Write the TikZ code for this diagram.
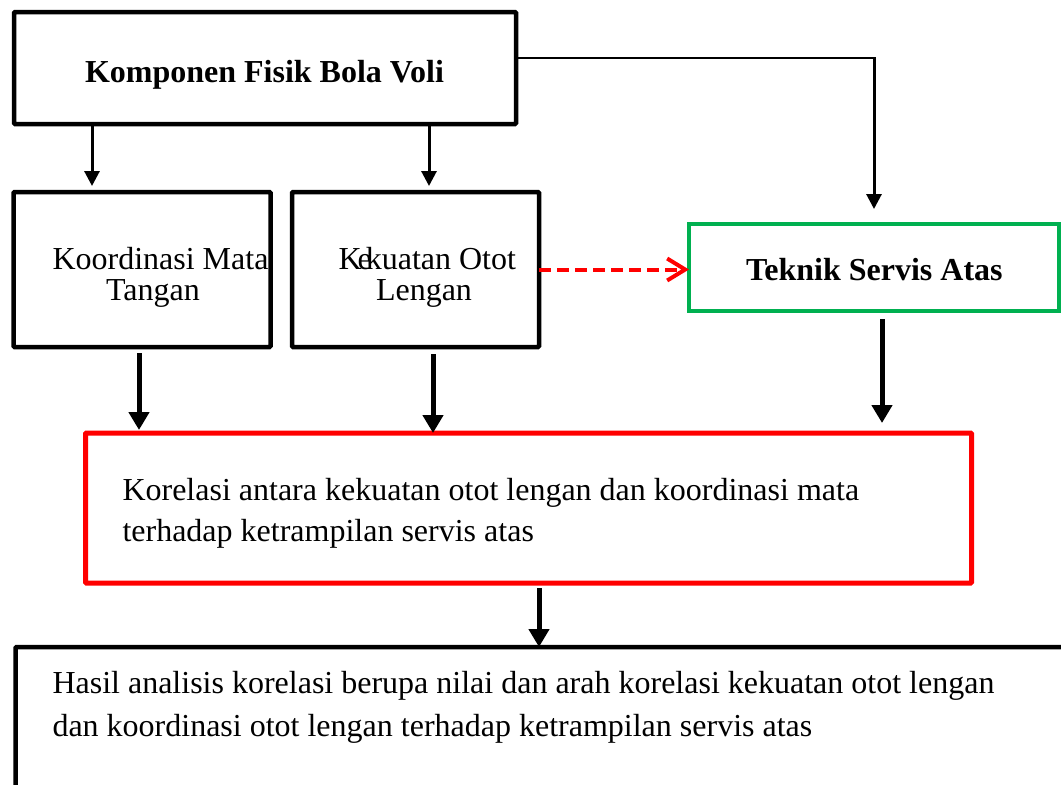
\documentclass[tikz,border=0pt]{standalone}
\usepackage{fontspec}
\setmainfont{Liberation Serif}
\usetikzlibrary{arrows.meta,calc}
\definecolor{wred}{HTML}{FF0000}
\definecolor{wgreen}{HTML}{00B050}
\begin{document}
\begin{tikzpicture}[x=1pt,y=-1pt,
  box/.style={draw=black,line width=4.5pt,rectangle,inner sep=0pt,outer sep=0pt,rounded corners=1pt},
  txt/.style={inner sep=0pt,outer sep=0pt,font=\fontsize{32}{38}\selectfont},
  btxt/.style={txt,font=\fontsize{32}{38}\selectfont\bfseries},
  thinarr/.style={line width=3pt,-{Triangle[length=15pt,width=15pt]}},
  thickarr/.style={line width=5pt,-{Triangle[length=18pt,width=20pt]}},
  dasharr/.style={draw=wred,line width=4pt,dash pattern=on 12pt off 6pt,-{Straight Barb[length=18pt,width=22pt,line width=4pt]}}
]
\useasboundingbox (0,0) rectangle (1061,785);
\clip (0,0) rectangle (1061,785);

% boxes
\node[box,minimum width=502pt,minimum height=112pt] (top) at (265,68) {};
\node[box,minimum width=257pt,minimum height=155pt] (koord) at (142,269.5) {};
\node[box,minimum width=247pt,minimum height=155pt] (kek) at (415.5,269.5) {};
\node[box,draw=wgreen,line width=4pt,minimum width=370pt,minimum height=87pt,rounded corners=0pt] (tek) at (874,267.5) {};
\node[box,draw=wred,line width=5pt,minimum width=886pt,minimum height=150pt] (kor) at (528.5,508) {};
\node[box,minimum width=1060pt,minimum height=160pt] (has) at (545.5,727) {};

% texts
\node[btxt,anchor=base west] (t1) at (85,82) {Komponen Fisik Bola Voli};
\node[txt,anchor=base west] (t2a) at (52.5,269) {Koordinasi Mata};
\node[txt,anchor=base west] (t2b) at (106,300) {Tangan};
\node[txt,anchor=base west] (t3a) at (338.5,269) {K\kern-4pt e\kern-6pt kuatan Otot};
\node[txt,anchor=base west] (t3b) at (376,300) {Lengan};
\node[btxt,anchor=base west] (t4) at (746,280) {Teknik Servis Atas};
\node[txt,anchor=base west] (t5a) at (122.5,500.5) {Korelasi antara kekuatan otot lengan dan koordinasi mata};
\node[txt,anchor=base west] (t5b) at (122.5,541.5) {terhadap ketrampilan servis atas};
\node[txt,anchor=base west] (t6a) at (52.5,693) {Hasil analisis korelasi berupa nilai dan arah korelasi kekuatan otot lengan};
\node[txt,anchor=base west] (t6b) at (52.5,736) {dan koordinasi otot lengan terhadap ketrampilan servis atas};

% helper coordinates
\coordinate (x92) at (92,0);
\coordinate (x429) at (429,0);
\coordinate (x139) at (139,0);
\coordinate (x433) at (433,0);
\coordinate (x882) at (882,0);
\coordinate (x539) at (539,0);
\coordinate (h) at (874,58);

% connectors
\draw[thinarr,shorten >=6pt] (top.south -| x92) -- (koord.north -| x92);
\draw[thinarr,shorten >=6pt] (top.south -| x429) -- (kek.north -| x429);
\draw[line width=1.5pt] (top.east |- h) -- ([xshift=1.5pt]h);
\draw[thinarr,shorten >=15pt] (h) -- (tek.north);
\draw[dasharr] (kek.east) -- (kek.east -| tek.west);
\draw[thickarr,shorten <=6pt,shorten >=3pt] (koord.south -| x139) -- (kor.north -| x139);
\draw[thickarr,shorten <=7pt,shorten >=0pt] (kek.south -| x433) -- (kor.north -| x433);
\draw[thickarr,shorten <=8pt,shorten >=10pt] (tek.south -| x882) -- (kor.north -| x882);
\draw[thickarr,shorten <=5pt,shorten >=0pt] (kor.south -| x539) -- (has.north -| x539);
\end{tikzpicture}
\end{document}
